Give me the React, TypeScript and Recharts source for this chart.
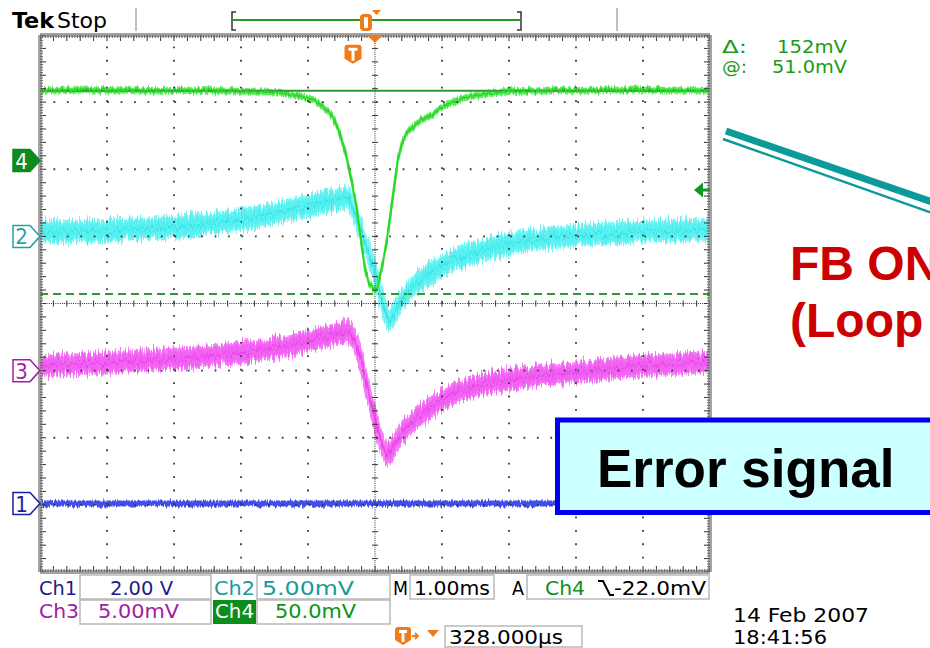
import React from 'react';
import { ComposedChart, Area, Line, Scatter, XAxis, YAxis, ReferenceLine, ReferenceDot } from 'recharts';

// screen units: x = divisions (1.00 ms/div, 0..10), y = divisions (-4..4)
const ch4Time = [0, 0.9, 2.39, 3.58, 3.88, 4.1, 4.25, 4.37, 4.48, 4.57, 4.64, 4.72, 4.79, 4.85, 4.91, 4.99, 5.04, 5.1, 5.16, 5.22, 5.28, 5.34, 5.42, 5.52, 5.67, 5.9, 6.12, 6.42, 6.87, 7.76, 10];
const ch4Level = [3.18, 3.18, 3.17, 3.15, 3.09, 3.03, 2.91, 2.79, 2.51, 2.21, 1.87, 1.47, 0.95, 0.53, 0.29, 0.2, 0.25, 0.53, 0.84, 1.24, 1.69, 2.14, 2.44, 2.59, 2.72, 2.85, 2.99, 3.09, 3.15, 3.18, 3.18];
const ch4Spread = 0.035;

const ch2Time = [0, 0.9, 1.64, 2.39, 3.13, 3.73, 4.18, 4.48, 4.6, 4.7, 4.81, 4.9, 4.99, 5.07, 5.15, 5.21, 5.28, 5.37, 5.52, 5.67, 5.87, 6.07, 6.27, 6.72, 7.31, 8.06, 8.96, 10];
const ch2Level = [1.07, 1.08, 1.12, 1.17, 1.27, 1.39, 1.5, 1.57, 1.59, 1.36, 1.02, 0.77, 0.5, 0.17, -0.13, -0.25, -0.16, 0.02, 0.2, 0.34, 0.48, 0.6, 0.69, 0.83, 0.95, 1.02, 1.07, 1.1];
const ch2Spread = 0.14;

const ch3Time = [0, 0.9, 1.64, 2.39, 3.13, 3.73, 4.18, 4.48, 4.6, 4.7, 4.81, 4.9, 5.0, 5.09, 5.18, 5.27, 5.37, 5.57, 5.78, 6.07, 6.27, 6.72, 7.31, 8.06, 8.96, 10];
const ch3Level = [-0.92, -0.89, -0.84, -0.8, -0.72, -0.62, -0.51, -0.44, -0.4, -0.54, -0.92, -1.32, -1.74, -2.06, -2.26, -2.14, -1.96, -1.74, -1.59, -1.39, -1.29, -1.18, -1.09, -1.02, -0.93, -0.87];
const ch3Spread = 0.14;

const ch1Time = [0, 2.5, 5, 7.5, 10];
const ch1Level = [-2.98, -2.98, -2.98, -2.98, -2.98];
const ch1Spread = 0.045;

const CH_NAMES = ['4', '2', '3', '1'];
const CH_LEVELS = [2.13, 1.0, -1.0, -2.98];
const CH_COLORS = ['#0e8a1e', '#1fa5a5', '#a41ea4', '#1c1ca0'];

const CURSOR_A = 3.17;
const CURSOR_B = 0.14;
const TRIG_LEVEL = 1.69;
const TRIG_TIME = 4.672;

const MAJOR_X = [1, 2, 3, 4, 6, 7, 8, 9];
const MAJOR_Y = [-3, -2, -1, 1, 2, 3];
const MINOR_X = Array.from({ length: 51 }, (_, i) => +(i * 0.2).toFixed(2));
const MINOR_Y = Array.from({ length: 41 }, (_, i) => +(-4 + i * 0.2).toFixed(2));
const FINE_X = Array.from({ length: 251 }, (_, i) => +(i * 0.04).toFixed(2));
const FINE_Y = Array.from({ length: 201 }, (_, i) => +(-4 + i * 0.04).toFixed(2));

const SCOPE_FONT = "'DejaVu Sans Condensed', 'Liberation Sans Narrow', 'DejaVu Sans', sans-serif";
const ARIAL = "'Liberation Sans', Arial, sans-serif";

const toBand = (t: number[], v: number[], s: number) =>
  t.map((x, i) => ({ x, y: v[i], band: [v[i] - s, v[i] + s] }));

const ch4 = toBand(ch4Time, ch4Level, ch4Spread);
const ch2 = toBand(ch2Time, ch2Level, ch2Spread);
const ch3 = toBand(ch3Time, ch3Level, ch3Spread);
const ch1 = toBand(ch1Time, ch1Level, ch1Spread);

// graticule tick positions (center cross and frame ruler)
const centerH = MINOR_X.map((x) => ({ x, y: 0 }));
const centerV = MINOR_Y.map((y) => ({ x: 5, y }));
const frameTop = MINOR_X.map((x) => ({ x, y: 4 }));
const frameBot = MINOR_X.map((x) => ({ x, y: -4 }));
const frameLeft = MINOR_Y.map((y) => ({ x: 0, y }));
const frameRight = MINOR_Y.map((y) => ({ x: 10, y }));
const fineTop = FINE_X.map((x) => ({ x, y: 4 }));
const fineBot = FINE_X.map((x) => ({ x, y: -4 }));
const fineLeft = FINE_Y.map((y) => ({ x: 0, y }));
const fineRight = FINE_Y.map((y) => ({ x: 10, y }));

const tickShape = (dx: number, dy: number, color = '#333') => (p: any) => (
  <line x1={p.cx} y1={p.cy} x2={p.cx + dx} y2={p.cy + dy} stroke={color} strokeWidth={1} />
);

const ChannelMarker = (i: number) => (p: any) => {
  const x = p.cx;
  const y = p.cy;
  const c = CH_COLORS[i];
  const filled = i === 0;
  return (
    <g>
      <path d={`M${x - 27},${y - 11} h17 l10,11 l-10,11 h-17 z`} fill={filled ? c : '#fff'} stroke={c} strokeWidth={1.5} />
      <text x={x - 18.5} y={y + 8} textAnchor="middle" fontSize={22} fontFamily={SCOPE_FONT} fill={filled ? '#fff' : c}>
        {CH_NAMES[i]}
      </text>
    </g>
  );
};

const Label = ({ x, y, w, fill = '#000', size = 20, children }: any) => (
  <text x={x} y={y} textLength={w} lengthAdjust="spacingAndGlyphs" fontSize={size} fontFamily={SCOPE_FONT} fill={fill}>
    {children}
  </text>
);

const Box = ({ x, y, w, h }: any) => <rect x={x} y={y} width={w} height={h} fill="#fff" stroke="#b9b9b9" strokeWidth={1.5} />;

const TBadge = ({ x, y, w = 16, h = 18 }: any) => (
  <g>
    <path d={`M${x + 3},${y} h${w - 6} q3,0 3,3 v${h - 8} l-${w / 2},5 l-${w / 2},-5 v-${h - 8} q0,-3 3,-3 z`} fill="#f07a18" />
    <path d={`M${x + 4},${y + 3} h${w - 8} v3 h-${(w - 8) / 2 - 1.5} v${h - 9} h-3 v-${h - 9} h-${(w - 8) / 2 - 1.5} z`} fill="#fff" />
  </g>
);

const seriesCommon = { type: 'linear' as const, dot: false, activeDot: false, isAnimationActive: false };

export default function App() {
  return (
    <div style={{ position: 'fixed', left: 0, top: 0, width: 930, height: 648, background: '#fff', overflow: 'hidden' }}>
      <svg width={0} height={0} style={{ position: 'absolute' }}>
        <defs>
          <filter id="scopeNoise" x="-2%" y="-30%" width="104%" height="160%">
            <feTurbulence type="fractalNoise" baseFrequency="0.6 0.04" numOctaves={2} seed={7} result="t" />
            <feColorMatrix in="t" type="matrix" values="0 0 0 0 0.5  0 1 0 0 0  0 0 0 0 0  0 0 0 0 1" result="m" />
            <feDisplacementMap in="SourceGraphic" in2="m" scale={17} xChannelSelector="R" yChannelSelector="G" />
          </filter>
          <filter id="scopeNoiseFine" x="-2%" y="-30%" width="104%" height="160%">
            <feTurbulence type="fractalNoise" baseFrequency="0.6 0.04" numOctaves={2} seed={3} result="t" />
            <feColorMatrix in="t" type="matrix" values="0 0 0 0 0.5  0 1 0 0 0  0 0 0 0 0  0 0 0 0 1" result="m" />
            <feDisplacementMap in="SourceGraphic" in2="m" scale={7} xChannelSelector="R" yChannelSelector="G" />
          </filter>
        </defs>
      </svg>
      <ComposedChart width={930} height={648} margin={{ top: 35, right: 220, bottom: 76, left: 40 }}>
        <XAxis dataKey="x" type="number" domain={[0, 10]} hide allowDataOverflow />
        <YAxis dataKey="y" type="number" domain={[-4, 4]} hide allowDataOverflow />

        {/* dotted major divisions */}
        {MAJOR_X.map((x) => (
          <ReferenceLine key={`vx${x}`} x={x} stroke="#3a3a3a" strokeWidth={1.8} strokeDasharray="1.8 11.63" />
        ))}
        {MAJOR_Y.map((y) => (
          <ReferenceLine key={`hy${y}`} y={y} stroke="#3a3a3a" strokeWidth={1.8} strokeDasharray="1.8 11.63" />
        ))}
        <ReferenceLine x={5} stroke="#333" strokeDasharray="1 1.2" />
        <ReferenceLine y={0} stroke="#333" strokeDasharray="1 1.2" />
        <Scatter data={centerH} isAnimationActive={false} shape={(p: any) => <line x1={p.cx} x2={p.cx} y1={p.cy - 3} y2={p.cy + 3} stroke="#333" />} />
        <Scatter data={centerV} isAnimationActive={false} shape={(p: any) => <line x1={p.cx - 3} x2={p.cx + 3} y1={p.cy} y2={p.cy} stroke="#333" />} />

        {/* frame */}
        <ReferenceLine y={4} stroke="#a3a3a3" strokeWidth={4} />
        <ReferenceLine y={-4} stroke="#a3a3a3" strokeWidth={4} />
        <ReferenceLine x={0} stroke="#a3a3a3" strokeWidth={4} />
        <ReferenceLine x={10} stroke="#a3a3a3" strokeWidth={4} />
        <Scatter data={frameTop} isAnimationActive={false} shape={tickShape(0, 6)} />
        <Scatter data={frameBot} isAnimationActive={false} shape={tickShape(0, -6)} />
        <Scatter data={frameLeft} isAnimationActive={false} shape={tickShape(6, 0)} />
        <Scatter data={frameRight} isAnimationActive={false} shape={tickShape(-6, 0)} />
        <Scatter data={fineTop} isAnimationActive={false} shape={tickShape(0, 3, '#666')} />
        <Scatter data={fineBot} isAnimationActive={false} shape={tickShape(0, -3, '#666')} />
        <Scatter data={fineLeft} isAnimationActive={false} shape={tickShape(3, 0, '#666')} />
        <Scatter data={fineRight} isAnimationActive={false} shape={tickShape(-3, 0, '#666')} />

        {/* cursors */}
        <ReferenceLine y={CURSOR_A} stroke="#2f9a2f" strokeWidth={2} />
        <ReferenceLine y={CURSOR_B} stroke="#2f9a2f" strokeWidth={2} strokeDasharray="8 5" />

        {/* traces */}
        <Area data={ch1} dataKey="band" stroke="#4d5cf0" strokeWidth={2} fill="#4050ea" fillOpacity={1} filter="url(#scopeNoiseFine)" {...seriesCommon} />
        <Line data={ch1} dataKey="y" stroke="#1420c8" strokeWidth={2} filter="url(#scopeNoiseFine)" {...seriesCommon} />
        <Area data={ch3} dataKey="band" stroke="#f47cf4" strokeWidth={3} fill="#f262f2" fillOpacity={1} filter="url(#scopeNoise)" {...seriesCommon} />
        <Line data={ch3} dataKey="y" stroke="#ea44ea" strokeWidth={2} filter="url(#scopeNoise)" {...seriesCommon} />
        <Area data={ch2} dataKey="band" stroke="#78f4f4" strokeWidth={3} fill="#58f0f0" fillOpacity={1} filter="url(#scopeNoise)" {...seriesCommon} />
        <Line data={ch2} dataKey="y" stroke="#38e4e4" strokeWidth={2} filter="url(#scopeNoise)" {...seriesCommon} />
        <Area data={ch4} dataKey="band" stroke="#62ea62" strokeWidth={2} fill="#4ee84e" fillOpacity={1} filter="url(#scopeNoiseFine)" {...seriesCommon} />
        <Line data={ch4} dataKey="y" stroke="#2bd62b" strokeWidth={2} filter="url(#scopeNoiseFine)" {...seriesCommon} />

        {/* channel ground markers, trigger level, position and trigger markers */}
        {CH_LEVELS.map((lvl, i) => (
          <ReferenceDot key={`ch${i}`} x={0} y={lvl} r={1} ifOverflow="visible" shape={ChannelMarker(i)} />
        ))}
        <ReferenceDot x={10} y={TRIG_LEVEL} r={1} ifOverflow="visible"
          shape={(p: any) => <path d={`M${p.cx - 16},${p.cy} l9,-7.5 v6 h7 v3 h-7 v6 z`} fill="#14962a" />} />
        <ReferenceDot x={5} y={4} r={1} ifOverflow="visible"
          shape={(p: any) => <path d={`M${p.cx - 8},${p.cy} h16 l-8,8 z`} fill="#f07a18" />} />
        <ReferenceDot x={TRIG_TIME} y={3.72} r={1} ifOverflow="visible"
          shape={(p: any) => <TBadge x={p.cx - 8.5} y={p.cy - 9} w={17} h={19} />} />
      </ComposedChart>

      <svg width={930} height={648} style={{ position: 'absolute', left: 0, top: 0 }}>
        {/* top status bar */}
        <text x={12} y={28} textLength={42} lengthAdjust="spacingAndGlyphs" fontSize={22} fontWeight="bold" fontFamily={SCOPE_FONT}>Tek</text>
        <Label x={57} y={28} w={50} size={22}>Stop</Label>
        <line x1={136} x2={136} y1={8} y2={31} stroke="#aaa" strokeWidth={1.5} />
        <line x1={617} x2={617} y1={8} y2={31} stroke="#aaa" strokeWidth={1.5} />
        <path d="M236,12 h-4 v18 h4" fill="none" stroke="#333" strokeWidth={1.5} />
        <path d="M517,12 h4 v18 h-4" fill="none" stroke="#333" strokeWidth={1.5} />
        <line x1={233} x2={520} y1={20} y2={20} stroke="#23a023" strokeWidth={2} />
        <rect x={360} y={14} width={12} height={17} rx={4} fill="#f07a18" />
        <rect x={364} y={17} width={4} height={11} rx={1} fill="#fff" />
        <path d="M372,10 h9 l-4.5,5 z" fill="#f07a18" />

        {/* cursor readout */}
        <text x={722} y={53} fontSize={18} fontFamily="'DejaVu Sans', sans-serif" fill="#1a9a1a" textLength={25} lengthAdjust="spacingAndGlyphs">Δ:</text>
        <text x={777} y={53} fontSize={18} fontFamily="'DejaVu Sans', sans-serif" fill="#1a9a1a" textLength={70} lengthAdjust="spacingAndGlyphs">152mV</text>
        <text x={722} y={73} fontSize={18} fontFamily="'DejaVu Sans', sans-serif" fill="#1a9a1a" textLength={25} lengthAdjust="spacingAndGlyphs">@:</text>
        <text x={772} y={73} fontSize={18} fontFamily="'DejaVu Sans', sans-serif" fill="#1a9a1a" textLength={75} lengthAdjust="spacingAndGlyphs">51.0mV</text>

        {/* annotation */}
        <line x1={726} y1={131} x2={935} y2={203} stroke="#0a9a9a" strokeWidth={7} />
        <line x1={723} y1={139} x2={935} y2={214} stroke="#0a9a9a" strokeWidth={2.5} />
        <text x={790} y={280} fontSize={48} fontWeight="bold" fontFamily={ARIAL} fill="#cc0000">FB ON</text>
        <text x={790} y={337} fontSize={48} fontWeight="bold" fontFamily={ARIAL} fill="#cc0000">(Loop</text>
        <rect x={557.5} y={420} width={400} height={92.5} fill="#ccffff" stroke="#0000ee" strokeWidth={5} />
        <text x={597} y={487} fontSize={53} fontWeight="bold" fontFamily={ARIAL} fill="#000">Error signal</text>

        {/* bottom readouts */}
        <Label x={39} y={595} w={38} fill="#1c1c8c">Ch1</Label>
        <Box x={80} y={575} w={131} h={24} />
        <Label x={110} y={595} w={63} fill="#1c1c8c">2.00 V</Label>
        <Label x={214} y={595} w={41} fill="#1a9a9a">Ch2</Label>
        <Box x={257} y={575} w={133} h={24} />
        <Label x={262} y={595} w={92} fill="#1a9a9a">5.00mV</Label>
        <Label x={393} y={595} w={15}>M</Label>
        <Box x={410} y={575} w={84} h={24} />
        <Label x={414} y={595} w={76}>1.00ms</Label>
        <Label x={512} y={595} w={12}>A</Label>
        <Box x={527} y={575} w={182} h={24} />
        <Label x={545} y={595} w={40} fill="#10901a">Ch4</Label>
        <path d="M598,581 h5 l7,14 h4" fill="none" stroke="#000" strokeWidth={2} />
        <Label x={614} y={595} w={92}>-22.0mV</Label>

        <Label x={39} y={618} w={40} fill="#a020a0">Ch3</Label>
        <Box x={80} y={600} w={131} h={24} />
        <Label x={98} y={618} w={81} fill="#a020a0">5.00mV</Label>
        <rect x={213} y={600} width={43} height={24} fill="#0c8c1c" />
        <Label x={215} y={618} w={39} fill="#fff">Ch4</Label>
        <Box x={257} y={600} w={133} h={24} />
        <Label x={275} y={618} w={81} fill="#10901a">50.0mV</Label>

        <TBadge x={395} y={627} w={16} h={18} />
        <path d="M412,636 h6 m-3,-3 l3,3 l-3,3" fill="none" stroke="#f07a18" strokeWidth={1.8} />
        <path d="M427,630 h12 l-6,7 z" fill="#f07a18" />
        <Box x={445} y={626} w={137} h={21} />
        <Label x={449} y={644} w={114} size={19}>328.000µs</Label>

        <Label x={733} y={622} w={136}>14 Feb  2007</Label>
        <Label x={733} y={644} w={94} size={19}>18:41:56</Label>
      </svg>
    </div>
  );
}
